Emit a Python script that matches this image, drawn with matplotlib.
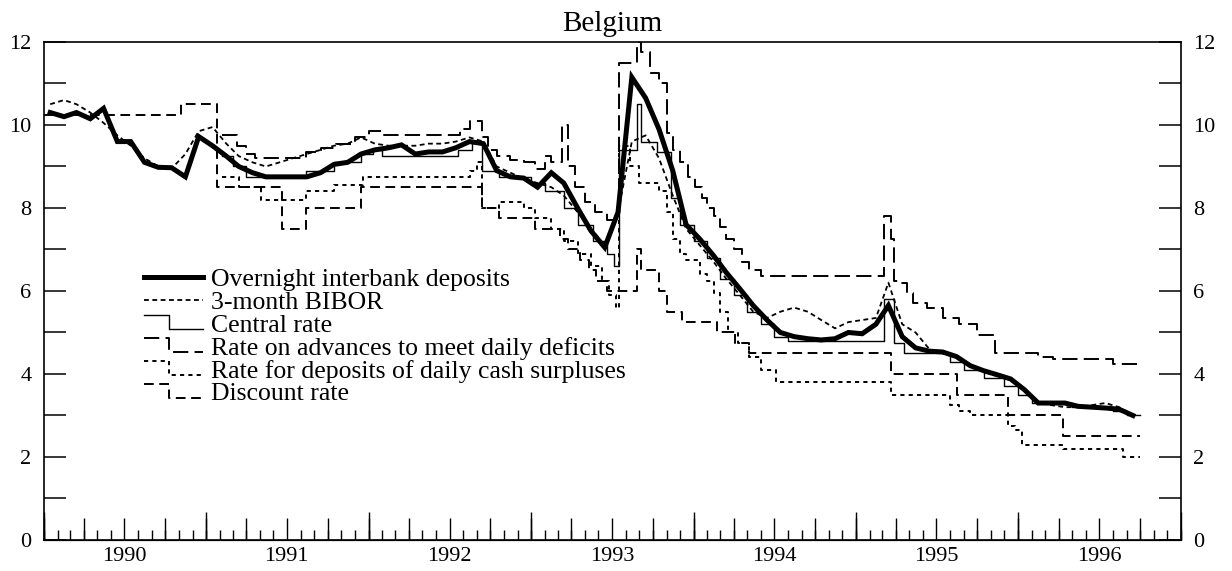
import pandas as pd
import matplotlib
matplotlib.use('Agg')
from matplotlib import pyplot as plt
import matplotlib.dates as mdates
from matplotlib.ticker import MultipleLocator, NullFormatter
from matplotlib.lines import Line2D
from matplotlib.legend_handler import HandlerLine2D

plt.rcParams['font.family'] = ['Liberation Serif', 'DejaVu Serif']
plt.rcParams['lines.scale_dashes'] = False

# monthly averages, Jan 1990 .. Sep 1996
overnight_values = [
    10.3, 10.2, 10.3, 10.15, 10.4, 9.6, 9.6, 9.1, 8.98, 8.97, 8.75, 9.72,
    9.5, 9.25, 9.0, 8.85, 8.75, 8.75, 8.75, 8.75, 8.85, 9.05, 9.1, 9.3,
    9.4, 9.45, 9.52, 9.3, 9.35, 9.35, 9.45, 9.6, 9.55, 8.9, 8.75, 8.72,
    8.5, 8.85, 8.6, 8.0, 7.45, 7.05, 7.9, 11.15, 10.65, 9.9, 8.9, 7.6,
    7.25, 6.85, 6.45, 6.05, 5.65, 5.3, 5.0, 4.9, 4.85, 4.82, 4.85, 5.0,
    4.97, 5.2, 5.65, 4.9, 4.63, 4.55, 4.53, 4.42, 4.2, 4.08, 3.98, 3.88,
    3.62, 3.3, 3.3, 3.3, 3.22, 3.2, 3.18, 3.15, 3.0,
]
bibor_values = [
    10.5, 10.6, 10.5, 10.3, 10.05, 9.75, 9.5, 9.2, 9.0, 8.95, 9.3, 9.85,
    9.95, 9.55, 9.25, 9.1, 9.0, 9.1, 9.2, 9.3, 9.4, 9.5, 9.55, 9.7,
    9.55, 9.5, 9.5, 9.5, 9.55, 9.55, 9.6, 9.7, 9.6, 9.0, 8.85, 8.7,
    8.6, 8.5, 8.3, 7.9, 7.5, 7.1, 7.9, 9.6, 9.75, 9.2, 8.3, 7.5,
    7.1, 6.7, 6.3, 5.9, 5.5, 5.35, 5.5, 5.6, 5.5, 5.3, 5.1, 5.25,
    5.3, 5.35, 6.2, 5.2, 5.0, 4.6, 4.5, 4.42, 4.2, 4.05, 3.95, 3.85,
    3.6, 3.3, 3.25, 3.2, 3.2, 3.25, 3.3, 3.2, 3.0,
]

# official rates: date of change, new level
central_dates = [
    '1991-02-05', '1991-03-01', '1991-04-01', '1991-08-13', '1991-10-15', '1991-12-16',
    '1992-01-10', '1992-02-01', '1992-07-20', '1992-08-20', '1992-09-12', '1992-10-21',
    '1993-01-01', '1993-02-01', '1993-03-15', '1993-04-15', '1993-05-20', '1993-06-20',
    '1993-07-05', '1993-07-17', '1993-08-27', '1993-09-05', '1993-10-10', '1993-11-10',
    '1993-12-01', '1994-01-01', '1994-02-01', '1994-03-01', '1994-04-01', '1994-05-01',
    '1994-06-01', '1994-07-01', '1994-08-01', '1995-03-06', '1995-03-27', '1995-04-20',
    '1995-08-01', '1995-09-01', '1995-10-15', '1995-12-01', '1996-01-01', '1996-02-01',
    '1996-05-01', '1996-08-01', '1996-09-01', '1996-10-01',
]
central_values = [
    9.25, 9.0, 8.75, 8.9, 9.1, 9.3,
    9.4, 9.25, 9.4, 9.6, 8.9, 8.75,
    8.6, 8.4, 8.0, 7.6, 7.2, 6.9,
    6.6, 9.4, 10.5, 9.6, 9.35, 8.25,
    7.6, 7.2, 6.8, 6.3, 5.9, 5.5,
    5.2, 4.9, 4.8, 5.8, 4.75, 4.5,
    4.3, 4.1, 3.9, 3.7, 3.5, 3.3,
    3.2, 3.1, 3.0, 3.0,
]
advance_dates = [
    '1991-02-05', '1991-03-10', '1991-04-01', '1991-04-20', '1991-08-13', '1991-09-15',
    '1991-10-20', '1991-12-01', '1992-01-01', '1992-02-01', '1992-07-25', '1992-08-15',
    '1992-09-12', '1992-09-25', '1992-10-15', '1992-11-15', '1992-12-15', '1993-01-09',
    '1993-02-01', '1993-02-15', '1993-03-10', '1993-03-25', '1993-04-10', '1993-05-01',
    '1993-05-25', '1993-06-20', '1993-07-17', '1993-08-27', '1993-09-05', '1993-09-25',
    '1993-10-16', '1993-11-01', '1993-11-15', '1993-12-01', '1993-12-20', '1994-01-05',
    '1994-01-20', '1994-02-01', '1994-02-15', '1994-03-01', '1994-03-15', '1994-04-01',
    '1994-04-20', '1994-05-05', '1994-06-01', '1995-03-06', '1995-03-20', '1995-03-27',
    '1995-04-10', '1995-04-25', '1995-05-10', '1995-06-10', '1995-07-15', '1995-08-20',
    '1995-10-01', '1995-11-10', '1996-02-15', '1996-03-20', '1996-08-01', '1996-10-01',
]
advance_values = [
    9.75, 9.5, 9.3, 9.2, 9.35, 9.45,
    9.55, 9.7, 9.85, 9.75, 9.9, 10.1,
    9.7, 9.4, 9.25, 9.15, 9.1, 8.95,
    9.25, 9.1, 10.0, 9.0, 8.5, 8.15,
    7.9, 7.7, 11.5, 12.0, 11.75, 11.25,
    11.0, 9.8, 9.4, 9.1, 8.75, 8.5,
    8.25, 8.0, 7.8, 7.55, 7.25, 7.0,
    6.7, 6.5, 6.35, 7.8, 7.25, 6.25,
    6.2, 5.95, 5.7, 5.6, 5.35, 5.2,
    4.95, 4.5, 4.4, 4.35, 4.25, 4.25,
]
deposit_dates = [
    '1991-02-05', '1991-03-15', '1991-05-04', '1991-08-13', '1991-10-15', '1991-12-20',
    '1992-08-15', '1992-09-01', '1992-09-12', '1992-10-21', '1992-12-15', '1993-01-09',
    '1993-02-15', '1993-03-15', '1993-04-15', '1993-05-15', '1993-06-10', '1993-06-25',
    '1993-07-10', '1993-07-17', '1993-08-10', '1993-09-01', '1993-10-16', '1993-11-01',
    '1993-11-15', '1993-12-01', '1993-12-15', '1994-01-15', '1994-02-01', '1994-02-15',
    '1994-03-01', '1994-03-20', '1994-04-10', '1994-05-06', '1994-06-01', '1994-07-06',
    '1995-03-21', '1995-08-01', '1995-08-20', '1995-09-15', '1995-12-10', '1995-12-25',
    '1996-01-10', '1996-04-10', '1996-08-23', '1996-10-01',
]
deposit_values = [
    8.75, 8.5, 8.2, 8.4, 8.55, 8.75,
    8.9, 9.1, 8.0, 8.15, 8.0, 7.75,
    7.5, 7.2, 6.9, 6.6, 6.25, 5.9,
    5.6, 9.5, 9.0, 8.6, 8.4, 7.9,
    7.25, 6.9, 6.75, 6.4, 6.25, 5.95,
    5.5, 5.0, 4.75, 4.4, 4.1, 3.8,
    3.5, 3.25, 3.1, 3.0, 2.75, 2.65,
    2.3, 2.2, 2.0, 2.0,
]
discount_dates = [
    '1990-01-01', '1990-11-06', '1991-01-26', '1991-06-20', '1991-08-13', '1991-12-16',
    '1992-09-12', '1992-10-21', '1993-01-09', '1993-03-06', '1993-03-25', '1993-04-20',
    '1993-05-11', '1993-05-27', '1993-06-20', '1993-08-27', '1993-09-05', '1993-10-16',
    '1993-11-01', '1993-12-05', '1994-02-22', '1994-04-03', '1994-05-06', '1995-03-21',
    '1995-08-16', '1995-12-08', '1996-04-10', '1996-10-01',
]
discount_values = [
    10.25, 10.5, 8.5, 7.5, 8.0, 8.5,
    8.0, 7.75, 7.5, 7.25, 7.0, 6.75,
    6.5, 6.25, 6.0, 7.0, 6.5, 6.0,
    5.5, 5.25, 5.0, 4.75, 4.5, 4.0,
    3.5, 3.0, 2.5, 2.5,
]

years = list(range(1990, 1997))


class StepHandler(HandlerLine2D):
    # legend key drawn as a little step, like the rate lines
    def create_artists(self, legend, orig_handle, xdescent, ydescent, width, height, fontsize, trans):
        x0 = -xdescent
        xm = x0 + 0.42 * width
        x1 = x0 + width
        top = -ydescent + 0.9 * height
        bot = -ydescent + 0.15 * height
        line = Line2D([x0, xm, xm, x1], [top, top, bot, bot])
        self.update_prop(line, orig_handle, legend)
        line.set_transform(trans)
        return [line]


fig = plt.figure(figsize=(12.32, 5.71), dpi=100)
ax = fig.add_axes([0.0357, 0.0543, 0.9229, 0.8722])

month_mid = pd.date_range('1990-01-01', periods=len(overnight_values), freq='MS') + pd.Timedelta(days=14)

ax.plot(month_mid, overnight_values, color='black', lw=3.6, solid_joinstyle='miter', zorder=5,
        label='Overnight interbank deposits')
ax.plot(month_mid, bibor_values, color='black', lw=1.3, ls=(0, (3.5, 2.5)), label='3-month BIBOR')
ax.plot(pd.to_datetime(central_dates), central_values, color='black', lw=1.0,
        drawstyle='steps-post', label='Central rate')
ax.plot(pd.to_datetime(advance_dates), advance_values, color='black', lw=1.4,
        ls=(0, (11, 4.5)), drawstyle='steps-post', label='Rate on advances to meet daily deficits')
ax.plot(pd.to_datetime(deposit_dates), deposit_values, color='black', lw=1.4,
        ls=(0, (3, 3)), drawstyle='steps-post', label='Rate for deposits of daily cash surpluses')
ax.plot(pd.to_datetime(discount_dates), discount_values, color='black', lw=1.4,
        ls=(0, (7, 4)), drawstyle='steps-post', label='Discount rate')

ax.set_xlim(pd.Timestamp('1990-01-01'), pd.Timestamp('1997-01-01'))
ax.set_ylim(0, 12)

# y axis: ticks every point, labels on even values, both sides
ax.yaxis.set_major_locator(MultipleLocator(2))
ax.yaxis.set_minor_locator(MultipleLocator(1))
ax.tick_params(axis='y', which='both', direction='in', length=16, width=1.1,
               left=True, right=True, labelleft=True, labelright=True, labelsize=16, pad=9)

# x axis: year labels mid-year, month / quarter / year ticks of growing length
ax.set_xticks([pd.Timestamp('%d-07-01' % y) for y in years])
ax.set_xticklabels([str(y) for y in years])
ax.xaxis.set_minor_locator(mdates.MonthLocator())
ax.xaxis.set_minor_formatter(NullFormatter())
ax.tick_params(axis='x', which='major', length=0, labelsize=16, pad=5)
ax.tick_params(axis='x', which='minor', direction='in', length=7, width=1.0, top=False)

sec_q = ax.secondary_xaxis('bottom')
sec_q.set_xticks([mdates.date2num(pd.Timestamp('%d-%02d-01' % (y, m))) for y in years for m in (1, 4, 7, 10)])
sec_q.tick_params(direction='in', length=16, width=1.0, labelbottom=False)
sec_y = ax.secondary_xaxis('bottom')
sec_y.set_xticks([mdates.date2num(pd.Timestamp('%d-01-01' % y)) for y in years + [1997]])
sec_y.tick_params(direction='in', length=20, width=1.0, labelbottom=False)

for s in ax.spines.values():
    s.set_linewidth(1.2)

ax.set_title('Belgium', fontsize=21, pad=8)

handles, labels = ax.get_legend_handles_labels()
step_map = {h: StepHandler() for h in handles[2:]}
ax.legend(handles, labels, handler_map=step_map, loc='upper left', bbox_to_anchor=(0.088, 0.547),
          frameon=False, fontsize=18.5, handlelength=2.3, handletextpad=0.3, labelspacing=0.0,
          borderpad=0, borderaxespad=0)

fig.savefig('out.png', dpi=100)
